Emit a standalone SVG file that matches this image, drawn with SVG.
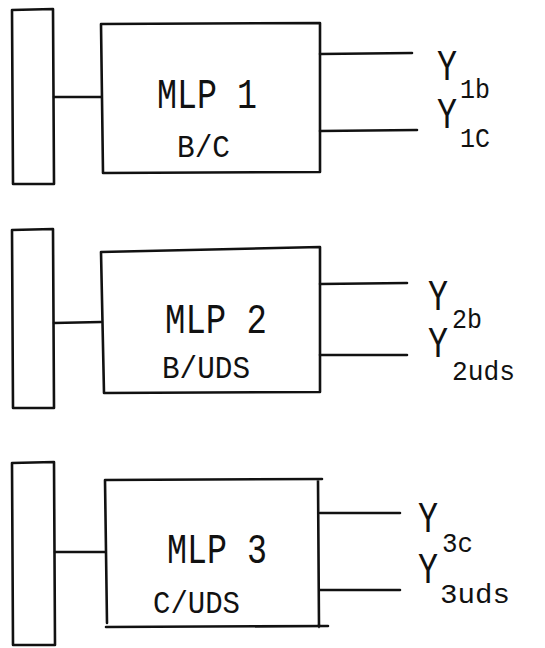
<svg xmlns="http://www.w3.org/2000/svg" width="545" height="648" viewBox="0 0 545 648">
<style>
.s{fill:none;stroke:#111;stroke-width:2.6;stroke-linecap:round;stroke-linejoin:round}
text{font-family:"Liberation Mono","DejaVu Sans Mono",monospace;fill:#111}
.t{font-size:42px}
.u{font-size:31px}
.y{font-size:44px}
.b{font-size:27px}
</style>
<rect width="545" height="648" fill="#fff"/>
<g id="bar1"><path class="s" d="M12 10 L53 9 L54 184 L13 184 Z"/></g>
<g id="bar2"><path class="s" d="M12 230 L53 229 L54 408 L13 408 Z"/></g>
<g id="bar3"><path class="s" d="M12 463 L54 462 L55 645 L13 645 Z"/></g>
<g id="mlp1">
<path class="s" d="M101 24 L320 23 L320 172 L103 173 Z"/>
<text class="t" x="157" y="108" textLength="100" lengthAdjust="spacingAndGlyphs">MLP 1</text>
<text class="u" x="177" y="157" textLength="53" lengthAdjust="spacingAndGlyphs">B/C</text>
</g>
<g id="mlp2">
<path class="s" d="M101 252 L320 247 L320 392 L104 393 Z"/>
<text class="t" x="165" y="333" textLength="102" lengthAdjust="spacingAndGlyphs">MLP 2</text>
<text class="u" x="162" y="378" textLength="88" lengthAdjust="spacingAndGlyphs">B/UDS</text>
</g>
<g id="mlp3">
<path class="s" d="M105 480 L322 479 M105 480 L107 623 M106 627 L328 626 M318 480 L319 627"/>
<text class="t" x="167" y="563" textLength="100" lengthAdjust="spacingAndGlyphs">MLP 3</text>
<text class="u" x="153" y="613" textLength="87" lengthAdjust="spacingAndGlyphs">C/UDS</text>
</g>
<g id="connectors">
<path class="s" d="M54 97 L101 97 M320 54 L412 53 M320 131 L417 130"/>
<path class="s" d="M54 323 L101 322 M320 284 L407 283 M320 355 L407 355"/>
<path class="s" d="M55 552 L105 552 M320 513 L400 513 M320 590 L400 590"/>
</g>
<g id="outputs1">
<text class="y" x="437" y="80" textLength="20" lengthAdjust="spacingAndGlyphs">Y</text>
<text class="b" x="460" y="98" textLength="30" lengthAdjust="spacingAndGlyphs">1b</text>
<text class="y" x="437" y="128" textLength="20" lengthAdjust="spacingAndGlyphs">Y</text>
<text class="b" x="460" y="147" textLength="30" lengthAdjust="spacingAndGlyphs">1C</text>
</g>
<g id="outputs2">
<text class="y" x="428" y="310" textLength="20" lengthAdjust="spacingAndGlyphs">Y</text>
<text class="b" x="452" y="328" textLength="30" lengthAdjust="spacingAndGlyphs">2b</text>
<text class="y" x="428" y="357" textLength="20" lengthAdjust="spacingAndGlyphs">Y</text>
<text class="b" x="452" y="380" textLength="63" lengthAdjust="spacingAndGlyphs">2uds</text>
</g>
<g id="outputs3">
<text class="y" x="418" y="532" textLength="20" lengthAdjust="spacingAndGlyphs">Y</text>
<text class="b" x="442" y="552" textLength="31" lengthAdjust="spacingAndGlyphs">3c</text>
<text class="y" x="418" y="583" textLength="20" lengthAdjust="spacingAndGlyphs">Y</text>
<text class="b" x="440" y="603" textLength="70" lengthAdjust="spacingAndGlyphs">3uds</text>
</g>
</svg>
